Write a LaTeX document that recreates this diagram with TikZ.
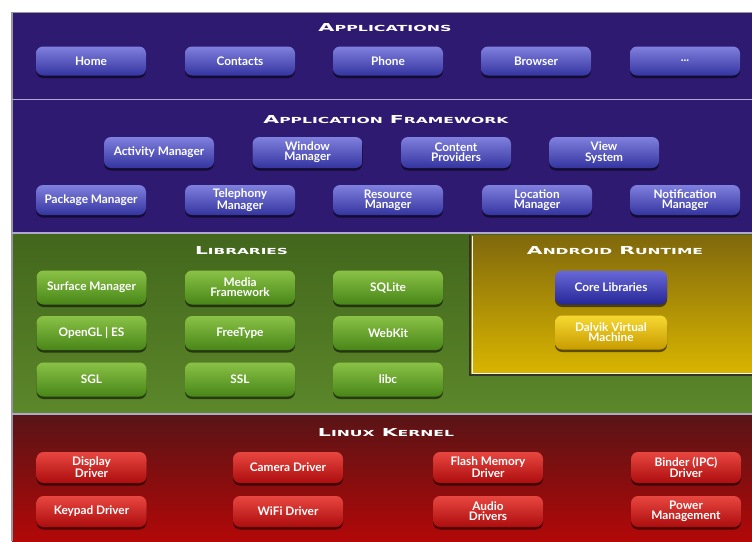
\documentclass[tikz,border=0pt]{standalone}
\usepackage{fontspec}
\usepackage{graphicx}
\setmainfont{Lato}
\newfontfamily\hfont{DejaVu Sans}
\usetikzlibrary{shadows}
\definecolor{appbg}{RGB}{46,26,112}
\definecolor{bluetop}{RGB}{128,128,222}
\definecolor{bluebot}{RGB}{52,52,160}
\definecolor{greenbgtop}{RGB}{66,102,28}
\definecolor{greenbgbot}{RGB}{92,135,42}
\definecolor{greentop}{RGB}{138,194,70}
\definecolor{greenbot}{RGB}{72,134,24}
\definecolor{rtbgtop}{RGB}{128,104,12}
\definecolor{rtbgbot}{RGB}{218,182,0}
\definecolor{coretop}{RGB}{104,104,216}
\definecolor{corebot}{RGB}{38,38,150}
\definecolor{yeltop}{RGB}{246,216,50}
\definecolor{yelbot}{RGB}{200,156,0}
\definecolor{kerntop}{RGB}{88,20,22}
\definecolor{kernbot}{RGB}{178,8,8}
\definecolor{redtop}{RGB}{232,70,64}
\definecolor{redbot}{RGB}{172,14,14}
\definecolor{sepline}{RGB}{176,168,208}
\definecolor{frameline}{RGB}{150,150,160}
\newcommand\SC[2]{{\fontsize{10}{10}\selectfont #1}{\fontsize{7.6}{8}\selectfont #2}}
\tikzset{
  btn/.style={rounded corners=7pt, minimum width=110pt, minimum height=29pt,
    inner sep=1pt, text=white, align=center,
    font=\fontsize{11.8}{10.3}\selectfont\bfseries,
    drop shadow={shadow xshift=0pt, shadow yshift=-2.5pt, opacity=0.55, fill=black}},
  bluebtn/.style={btn, top color=bluetop, bottom color=bluebot},
  greenbtn/.style={btn, minimum height=34pt, top color=greentop, bottom color=greenbot},
  corebtn/.style={btn, minimum width=112pt, minimum height=34pt, top color=coretop, bottom color=corebot},
  yelbtn/.style={btn, minimum width=112pt, minimum height=34pt, top color=yeltop, bottom color=yelbot},
  redbtn/.style={btn, minimum height=31pt, top color=redtop, bottom color=redbot},
  hdr/.style={text=white, inner sep=0pt}
}
\begin{document}
\begin{tikzpicture}[x=1pt,y=-1pt]
\useasboundingbox (0,0) rectangle (752,541);
\fill[white] (0,0) rectangle (752,541);
% backgrounds
\fill[appbg] (12,12) rectangle (752,99);
\fill[appbg] (12,100) rectangle (752,232);
\fill[top color=greenbgtop, bottom color=greenbgbot] (12,233) rectangle (752,413);
\fill[top color=kerntop, bottom color=kernbot] (12,414) rectangle (752,541);
% runtime box
\fill[top color=rtbgtop, bottom color=rtbgbot] (470,235) rectangle (752,375);
\draw[black!80, line width=1.2pt] (470,235) -- (470,375) -- (752,375);
\draw[white!85!yellow, line width=1pt] (472,236) -- (472,373) -- (752,373);
% separators and frame
\draw[frameline, line width=1pt] (12,12) -- (752,12);
\draw[frameline, line width=1.5pt] (12,12) -- (12,541);
\draw[sepline, line width=1.5pt] (12,99.5) -- (752,99.5);
\draw[sepline, line width=2pt] (12,232.5) -- (752,232.5);
\draw[sepline, line width=2pt] (12,413.5) -- (752,413.5);
% headers
\node[hdr] (h1) at (385,27.5) {\resizebox{133pt}{8pt}{\hfont\bfseries\SC{A}{PPLICATIONS}}};
\node[hdr] (h2) at (386,120) {\resizebox{245pt}{8pt}{\hfont\bfseries\SC{A}{PPLICATION} \SC{F}{RAMEWORK}}};
\node[hdr] (h3) at (241.5,251) {\resizebox{93pt}{8pt}{\hfont\bfseries\SC{L}{IBRARIES}}};
\node[hdr] (h4) at (615,250.5) {\resizebox{176pt}{8pt}{\hfont\bfseries\SC{A}{NDROID} \SC{R}{UNTIME}}};
\node[hdr] (h5) at (386,432.5) {\resizebox{136pt}{8pt}{\hfont\bfseries\SC{L}{INUX} \SC{K}{ERNEL}}};
% applications
\node[bluebtn] (home) at (91,61) {Home};
\node[bluebtn] (contacts) at (240,61) {Contacts};
\node[bluebtn] (phone) at (388,61) {Phone};
\node[bluebtn] (browser) at (536,61) {Browser};
\node[bluebtn] (more) at (685,61) {...};
% framework
\node[bluebtn, minimum height=31pt] (activity) at (159,152.5) {Activity Manager};
\node[bluebtn, minimum height=31pt] (window) at (307.5,152.5) {Window\\Manager};
\node[bluebtn, minimum height=31pt] (content) at (456,152.5) {Content\\Providers};
\node[bluebtn, minimum height=31pt] (view) at (604,152.5) {View\\System};
\node[bluebtn, minimum height=30pt] (package) at (91,200) {Package Manager};
\node[bluebtn, minimum height=30pt] (telephony) at (240,200) {Telephony\\Manager};
\node[bluebtn, minimum height=30pt] (resource) at (388,200) {Resource\\Manager};
\node[bluebtn, minimum height=30pt] (location) at (537,200) {Location\\Manager};
\node[bluebtn, minimum height=30pt] (notification) at (685,200) {Notification\\Manager};
% libraries
\node[greenbtn] (surface) at (91.5,287.5) {Surface Manager};
\node[greenbtn] (media) at (240,287.5) {Media\\Framework};
\node[greenbtn] (sqlite) at (388,287.5) {SQLite};
\node[greenbtn] (opengl) at (91.5,333) {OpenGL | ES};
\node[greenbtn] (freetype) at (240,333) {FreeType};
\node[greenbtn] (webkit) at (388,333) {WebKit};
\node[greenbtn] (sgl) at (91.5,379.5) {SGL};
\node[greenbtn] (ssl) at (240,379.5) {SSL};
\node[greenbtn] (libc) at (388,379.5) {libc};
% runtime
\node[corebtn] (core) at (611,287.5) {Core Libraries};
\node[yelbtn] (dalvik) at (611,332.5) {Dalvik Virtual\\Machine};
% kernel
\node[redbtn] (display) at (91.5,467.5) {Display\\Driver};
\node[redbtn] (camera) at (288,467.5) {Camera Driver};
\node[redbtn] (flash) at (488,467.5) {Flash Memory\\Driver};
\node[redbtn] (binder) at (686,467.5) {Binder (IPC)\\Driver};
\node[redbtn] (keypad) at (91.5,511.5) {Keypad Driver};
\node[redbtn] (wifi) at (288,511.5) {WiFi Driver};
\node[redbtn] (audio) at (488,511.5) {Audio\\Drivers};
\node[redbtn] (power) at (686,511.5) {Power\\Management};
\end{tikzpicture}
\end{document}
